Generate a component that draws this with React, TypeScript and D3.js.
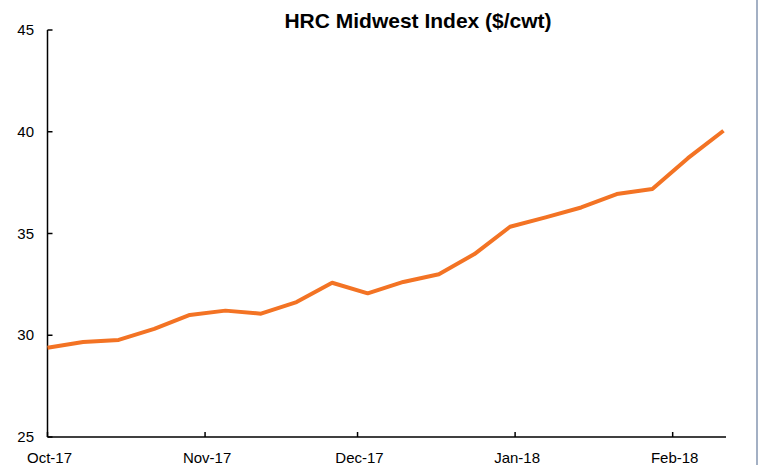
import React from "react";
import * as d3 from "d3";

const startDate = "2017-10-01";
const values = [29.39, 29.67, 29.77, 30.31, 31.0, 31.21, 31.06, 31.63, 32.58, 32.06, 32.62, 33.0, 33.99, 35.33, 35.79, 36.28, 36.94, 37.19, 38.7, 40.05];
const yTicks = [25, 30, 35, 40, 45];
const monthTicks = ["2017-10-01", "2017-11-01", "2017-12-01", "2018-01-01", "2018-02-01"];
const title = "HRC Midwest Index ($/cwt)";

const W = 764, H = 469;
const left = 47.5, right = 723.5, axisEnd = 726, top = 30, bottom = 437;

export default function App() {
  const parse = d3.timeParse("%Y-%m-%d");
  const d0 = parse(startDate)!;
  const data = values.map((v, i) => ({ date: d3.timeDay.offset(d0, i * 7), v }));
  const x = d3.scaleTime().domain([d0, data[data.length - 1].date]).range([left, right]);
  const y = d3.scaleLinear().domain([25, 45]).range([bottom, top]);
  const line = d3.line<{ date: Date; v: number }>().x(d => x(d.date)).y(d => y(d.v));
  const fmt = d3.timeFormat("%b-%y");
  const font = "Liberation Sans, Arial, sans-serif";
  return (
    <svg width={W} height={H} style={{ position: "absolute", left: 0, top: 0, background: "#fff" }}>
      <rect x={0} y={0} width={W} height={H} fill="#fff" />
      <text x={418} y={28} textAnchor="middle" fontFamily={font} fontWeight="bold" fontSize={21} fill="#000">{title}</text>
      <line x1={left} x2={left} y1={top} y2={bottom} stroke="#000" strokeWidth={1.5} />
      <line x1={left} x2={axisEnd} y1={bottom} y2={bottom} stroke="#000" strokeWidth={1.5} />
      {yTicks.map(t => (
        <g key={t}>
          <line x1={left} x2={left + 5} y1={y(t)} y2={y(t)} stroke="#000" strokeWidth={1.5} />
          <text x={34} y={y(t) + 5} textAnchor="end" fontFamily={font} fontSize={15} fill="#000">{t}</text>
        </g>
      ))}
      {monthTicks.map(m => {
        const d = parse(m)!;
        const px = x(d);
        return (
          <g key={m}>
            <line x1={px} x2={px} y1={bottom} y2={bottom - 5} stroke="#000" strokeWidth={1.5} />
            <text x={px + 2} y={463} textAnchor="middle" fontFamily={font} fontSize={15} fill="#000">{fmt(d)}</text>
          </g>
        );
      })}
      <path d={line(data) || ""} fill="none" stroke="#F37324" strokeWidth={4} strokeLinejoin="round" />
      <line x1={757} x2={757} y1={0} y2={465} stroke="#8496B0" strokeWidth={1.5} />
    </svg>
  );
}
